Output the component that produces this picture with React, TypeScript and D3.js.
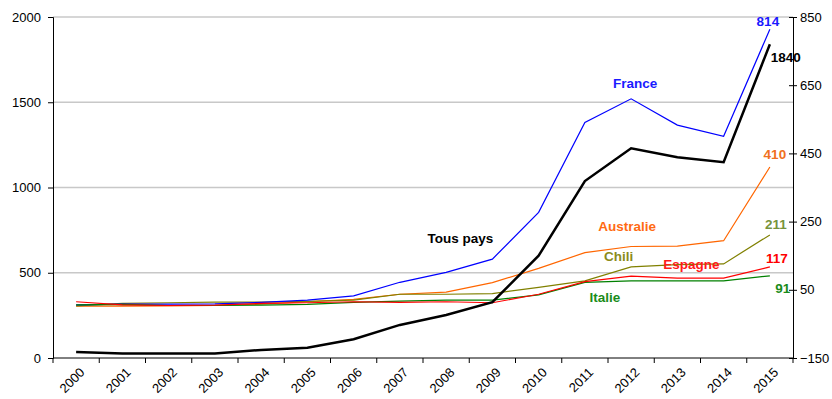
import { useRef, useEffect } from "react";
import * as d3 from "d3";

const years = [
  "2000", "2001", "2002", "2003", "2004", "2005", "2006", "2007",
  "2008", "2009", "2010", "2011", "2012", "2013", "2014", "2015",
];
// left axis
const tousPays = [35, 27, 27, 27, 47, 60, 110, 194, 252, 327, 600, 1038, 1230, 1177, 1148, 1840];
// right axis
const france = [6, 8, 8, 9, 13, 20, 32, 72, 101, 140, 277, 541, 610, 533, 500, 814];
const australie = [2, 2, 3, 4, 8, 15, 22, 37, 43, 71, 113, 159, 177, 178, 194, 410];
const chili = [3, 10, 12, 14, 14, 16, 20, 37, 37, 39, 57, 76, 117, 124, 126, 211];
const espagne = [15, 6, 4, 5, 10, 12, 15, 13, 15, 12, 37, 74, 90, 84, 84, 117];
const italie = [6, 7, 4, 4, 5, 7, 13, 17, 20, 20, 35, 72, 76, 76, 76, 91];

const leftTicks = [0, 500, 1000, 1500, 2000];
const rightTicks = [-150, 50, 250, 450, 650, 850];

const FONT = "'Liberation Sans', Arial, sans-serif";

export default function App() {
  const ref = useRef<SVGSVGElement | null>(null);

  useEffect(() => {
    if (!ref.current) return;
    const width = 832;
    const height = 399;
    const margin = { top: 17, right: 39, bottom: 41, left: 53 };
    const innerW = width - margin.left - margin.right;
    const innerH = height - margin.top - margin.bottom;

    const svg = d3.select(ref.current).html("");
    const g = svg
      .append("g")
      .attr("transform", `translate(${margin.left},${margin.top})`);

    const x = d3.scaleBand<string>().domain(years).range([0, innerW]);
    const cx = (y: string) => (x(y) as number) + x.bandwidth() / 2;
    const yL = d3.scaleLinear().domain([0, 2000]).range([innerH, 0]);
    const yR = d3.scaleLinear().domain([-150, 850]).range([innerH, 0]);

    // grid
    g.selectAll(".grid")
      .data(leftTicks.filter((d) => d > 0))
      .enter()
      .append("line")
      .attr("x1", 0)
      .attr("x2", innerW)
      .attr("y1", (d) => yL(d))
      .attr("y2", (d) => yL(d))
      .attr("stroke", "#c8c8c8")
      .attr("stroke-width", 1.5);

    // left axis
    const left = g
      .append("g")
      .call(
        d3
          .axisLeft(yL)
          .tickValues(leftTicks)
          .tickFormat(d3.format("d") as any)
          .tickSize(5)
          .tickPadding(7)
      );
    left.select(".domain").attr("stroke", "#000");
    left.selectAll("line").attr("stroke", "#000");
    left.selectAll("text").style("font-family", FONT).style("font-size", "13px").attr("fill", "#000");

    // right axis
    const right = g
      .append("g")
      .attr("transform", `translate(${innerW},0)`)
      .call(
        d3
          .axisRight(yR)
          .tickValues(rightTicks)
          .tickFormat(d3.format("d") as any)
          .tickSizeInner(4)
          .tickSizeOuter(0)
          .tickPadding(3)
      );
    right.select(".domain").attr("stroke", "#000");
    right.selectAll(".tick line").attr("x1", -4).attr("stroke", "#000");
    right.selectAll("text").style("font-family", FONT).style("font-size", "13px").attr("fill", "#000");

    // bottom axis
    const bottom = g.append("g").attr("transform", `translate(0,${innerH})`);
    bottom
      .append("line")
      .attr("x1", 0)
      .attr("x2", innerW)
      .attr("stroke", "#000");
    bottom
      .selectAll(".xt")
      .data(d3.range(years.length + 1))
      .enter()
      .append("line")
      .attr("x1", (i) => i * x.step())
      .attr("x2", (i) => i * x.step())
      .attr("y1", 0)
      .attr("y2", 5)
      .attr("stroke", "#000");
    bottom
      .selectAll(".xl")
      .data(years)
      .enter()
      .append("text")
      .attr("transform", (d) => `translate(${cx(d) + 6},${12}) rotate(-45)`)
      .attr("text-anchor", "end")
      .attr("dy", "0.35em")
      .style("font-family", FONT)
      .style("font-size", "13px")
      .attr("fill", "#000")
      .text((d) => d);

    // lines
    const lineL = d3
      .line<number>()
      .x((_, i) => cx(years[i]))
      .y((d) => yL(d));
    const lineR = d3
      .line<number>()
      .x((_, i) => cx(years[i]))
      .y((d) => yR(d));

    const rightSeries = [
      { values: australie, color: "#ff6600" },
      { values: chili, color: "#808000" },
      { values: france, color: "#0000ff" },
      { values: italie, color: "#008000" },
      { values: espagne, color: "#ff0000" },
    ];
    rightSeries.forEach((s) => {
      g.append("path")
        .datum(s.values)
        .attr("fill", "none")
        .attr("stroke", s.color)
        .attr("stroke-width", 1.2)
        .attr("d", lineR);
    });
    g.append("path")
      .datum(tousPays)
      .attr("fill", "none")
      .attr("stroke", "#000")
      .attr("stroke-width", 2.5)
      .attr("d", lineL);

    // labels
    const label = (px: number, py: number, text: string, color: string) => {
      g.append("text")
        .attr("x", px)
        .attr("y", py)
        .attr("text-anchor", "middle")
        .style("font-family", FONT)
        .style("font-size", "13.5px")
        .style("font-weight", "bold")
        .attr("fill", color)
        .text(text);
    };
    const last = years.length - 1;
    const xe = cx(years[last]);

    label(cx("2012") + 4, yR(642), "France", "#1a1aff");
    label(cx("2009") - 32, yL(674), "Tous pays", "#000");
    label(cx("2012") - 4, yR(223), "Australie", "#ff6a13");
    label(cx("2012") - 12.5, yR(135), "Chili", "#8b8b1a");
    label(cx("2013") + 14, yR(111), "Espagne", "#ff1a1a");
    label(cx("2011") + 20, yR(15), "Italie", "#1a8c1a");

    label(xe - 2, yR(france[last]) - 3, String(france[last]), "#1a1aff");
    label(xe + 16, yL(tousPays[last]) + 18, String(tousPays[last]), "#000");
    label(xe + 5, yR(australie[last]) - 8, String(australie[last]), "#f07020");
    label(xe + 6, yR(chili[last]) - 6, String(chili[last]), "#77933c");
    label(xe + 7, yR(espagne[last]) - 4, String(espagne[last]), "#ff0000");
    label(xe + 13, yR(italie[last]) + 17.5, String(italie[last]), "#1a8c1a");
  }, []);

  return (
    <svg
      ref={ref}
      width={832}
      height={399}
      style={{ position: "absolute", left: 0, top: 0, background: "#fff" }}
    ></svg>
  );
}
